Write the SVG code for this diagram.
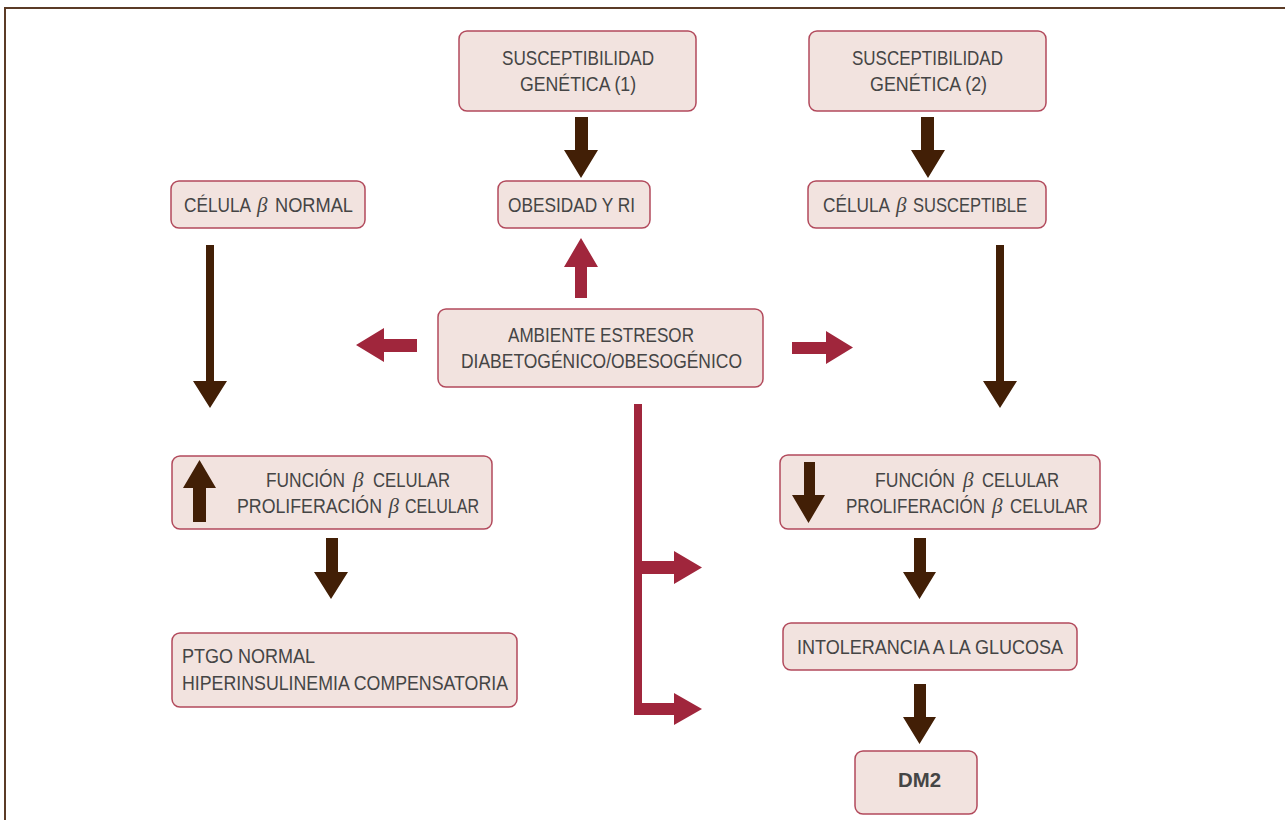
<svg xmlns="http://www.w3.org/2000/svg" width="1285" height="820" viewBox="0 0 1285 820">
<style>
.box{fill:#f2e3df;stroke:#b24a5c;stroke-width:1.5}
.t{font-family:"Liberation Sans",Arial,sans-serif;font-size:21px;fill:#454545}
.b{font-family:"Liberation Serif",serif;font-style:italic;font-size:21px;fill:#454545}
.br{fill:#421f06}
.rd{fill:#a0263c}
</style>
<rect x="0" y="0" width="1285" height="820" fill="#ffffff"/>
<rect x="5" y="8" width="1320" height="900" fill="none" stroke="#5b3b26" stroke-width="2"/>

<g id="n-sg1"><rect class="box" x="459" y="31" width="237" height="80" rx="8"/>
<text class="t" transform="translate(502 65) scale(0.82 1)" textLength="185.4" lengthAdjust="spacingAndGlyphs">SUSCEPTIBILIDAD</text>
<text class="t" transform="translate(520 91) scale(0.82 1)" textLength="141.5" lengthAdjust="spacingAndGlyphs">GENÉTICA (1)</text></g>

<g id="n-sg2"><rect class="box" x="809" y="31" width="237" height="80" rx="8"/>
<text class="t" transform="translate(852 65) scale(0.82 1)" textLength="184.1" lengthAdjust="spacingAndGlyphs">SUSCEPTIBILIDAD</text>
<text class="t" transform="translate(870 91) scale(0.82 1)" textLength="142.7" lengthAdjust="spacingAndGlyphs">GENÉTICA (2)</text></g>

<g id="n-normal"><rect class="box" x="171" y="181" width="194" height="47" rx="8"/>
<text class="t" transform="translate(184 212) scale(0.82 1)" textLength="81.7" lengthAdjust="spacingAndGlyphs">CÉLULA</text>
<text class="b" x="257" y="212">β</text>
<text class="t" transform="translate(275 212) scale(0.82 1)" textLength="95.1" lengthAdjust="spacingAndGlyphs">NORMAL</text></g>

<g id="n-obesidad"><rect class="box" x="498" y="181" width="152" height="47" rx="8"/>
<text class="t" transform="translate(508 212) scale(0.82 1)" textLength="154.9" lengthAdjust="spacingAndGlyphs">OBESIDAD Y RI</text></g>

<g id="n-suscept"><rect class="box" x="808" y="181" width="238" height="47" rx="8"/>
<text class="t" transform="translate(823 212) scale(0.82 1)" textLength="81.7" lengthAdjust="spacingAndGlyphs">CÉLULA</text>
<text class="b" x="896" y="212">β</text>
<text class="t" transform="translate(913 212) scale(0.82 1)" textLength="139" lengthAdjust="spacingAndGlyphs">SUSCEPTIBLE</text></g>

<g id="n-ambiente"><rect class="box" x="438" y="309" width="325" height="78" rx="8"/>
<text class="t" transform="translate(508 342) scale(0.82 1)" textLength="226.8" lengthAdjust="spacingAndGlyphs">AMBIENTE ESTRESOR</text>
<text class="t" transform="translate(461 368) scale(0.82 1)" textLength="342.7" lengthAdjust="spacingAndGlyphs">DIABETOGÉNICO/OBESOGÉNICO</text></g>

<g id="n-func-up"><rect class="box" x="172" y="456" width="320" height="73" rx="8"/>
<polygon class="br" points="193,522 206,522 206,488 216,488 199.5,460 183,488 193,488"/>
<text class="t" transform="translate(266 487) scale(0.82 1)" textLength="96.3" lengthAdjust="spacingAndGlyphs">FUNCIÓN</text>
<text class="b" x="353" y="487">β</text>
<text class="t" transform="translate(373 487) scale(0.82 1)" textLength="93.9" lengthAdjust="spacingAndGlyphs">CELULAR</text>
<text class="t" transform="translate(237 513) scale(0.82 1)" textLength="176.8" lengthAdjust="spacingAndGlyphs">PROLIFERACIÓN</text>
<text class="b" x="388.5" y="513">β</text>
<text class="t" transform="translate(405 513) scale(0.82 1)" textLength="90.2" lengthAdjust="spacingAndGlyphs">CELULAR</text></g>

<g id="n-ptgo"><rect class="box" x="172" y="633" width="345" height="74" rx="8"/>
<text class="t" transform="translate(182 663) scale(0.82 1)" textLength="162.2" lengthAdjust="spacingAndGlyphs">PTGO NORMAL</text>
<text class="t" transform="translate(182 690) scale(0.82 1)" textLength="397.6" lengthAdjust="spacingAndGlyphs">HIPERINSULINEMIA COMPENSATORIA</text></g>

<g id="n-func-down"><rect class="box" x="780" y="455" width="320" height="74" rx="8"/>
<polygon class="br" points="804,462 815,462 815,495 825,495 808.5,523 792,495 804,495"/>
<text class="t" transform="translate(875 487) scale(0.82 1)" textLength="97.6" lengthAdjust="spacingAndGlyphs">FUNCIÓN</text>
<text class="b" x="963" y="487">β</text>
<text class="t" transform="translate(982 487) scale(0.82 1)" textLength="93.9" lengthAdjust="spacingAndGlyphs">CELULAR</text>
<text class="t" transform="translate(846 513) scale(0.82 1)" textLength="169.5" lengthAdjust="spacingAndGlyphs">PROLIFERACIÓN</text>
<text class="b" x="992" y="513">β</text>
<text class="t" transform="translate(1010 513) scale(0.82 1)" textLength="95.1" lengthAdjust="spacingAndGlyphs">CELULAR</text></g>

<g id="n-intol"><rect class="box" x="783" y="623" width="294" height="47" rx="8"/>
<text class="t" transform="translate(797 654) scale(0.82 1)" textLength="324.4" lengthAdjust="spacingAndGlyphs">INTOLERANCIA A LA GLUCOSA</text></g>

<g id="n-dm2"><rect class="box" x="855" y="751" width="122" height="63" rx="8"/>
<text class="t" transform="translate(898 787) scale(0.82 1)" font-weight="bold" textLength="52.4" lengthAdjust="spacingAndGlyphs">DM2</text></g>

<g id="connectors">
<polygon class="br" points="575,117 588,117 588,150 598,150 581,178 564,150 575,150"/>
<polygon class="br" points="921,117 934,117 934,150 945,150 928,178 911,150 921,150"/>
<polygon class="br" points="206,245 214,245 214,381 227,381 210,408 193,381 206,381"/>
<polygon class="br" points="996,245 1004,245 1004,381 1017,381 1000,408 983,381 996,381"/>
<polygon class="br" points="326,538 338,538 338,572 348,572 331,599 314,572 326,572"/>
<polygon class="br" points="914,538 926,538 926,572 936,572 919.5,599 903,572 914,572"/>
<polygon class="br" points="914,684 926,684 926,717 936,717 919.5,744 903,717 914,717"/>
<polygon class="rd" points="575,298 587,298 587,267 598,267 581,238 564,267 575,267"/>
<polygon class="rd" points="417,339 417,352 384,352 384,362 356,345 384,328 384,339"/>
<polygon class="rd" points="792,342 826,342 826,331 853,347.5 826,364 826,354 792,354"/>
<polygon class="rd" points="634,404 642,404 642,561 674,561 674,551 702,567.5 674,584 674,574 642,574 642,703 674,703 674,693 702,709 674,725 674,715 634,715"/>
</g>
</svg>
